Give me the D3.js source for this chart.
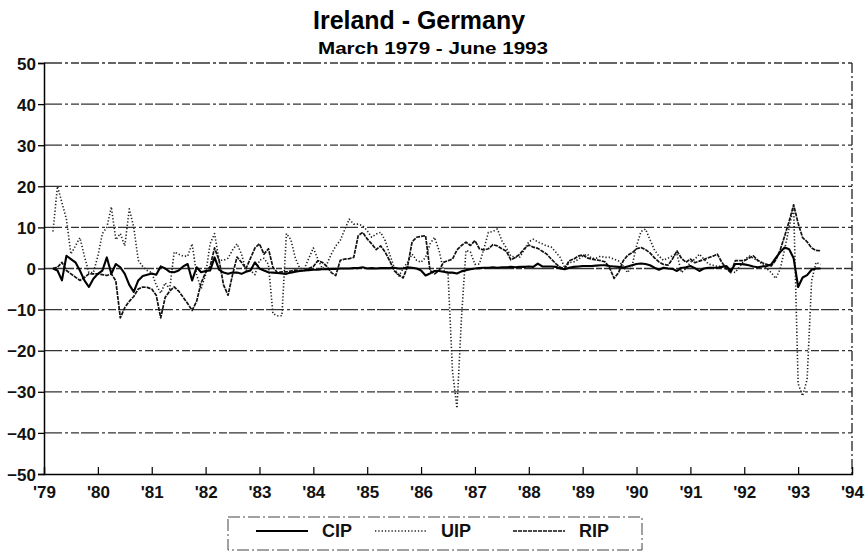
<!DOCTYPE html>
<html>
<head>
<meta charset="utf-8">
<script src="https://cdn.jsdelivr.net/npm/d3@7"></script>
<style>
    body { margin: 0; background: #fff; }
    svg { display: block; }
    .tick-label { font-family: "Liberation Sans Narrow", "Arial Narrow", "Liberation Sans", sans-serif; font-weight: bold; font-size: 17px; fill: #111; }
</style>
</head>
<body>
<div id="chart"></div>
<script>
// monthly series, March 1979 .. June 1993
var startYear = 1979, startMonth = 3;

var cipValues = [
    0, -0.5, -2.9, 3.1, 2.3, 1.5, -0.5, -2.9, -4.5, -2.5,
    -1.3, -0.5, 2.7, -1.3, 1.1, 0.3, -1.3, -4, -5.7, -2.9, -1.8, -1.5,
    -1.2, -1.5, 0.5, 0, -0.8, -0.9, -0.5, 0.5, 1.1, -2.9, 0.3, -0.9,
    -0.6, -0.5, 2.7, -0.3, -1, -1.3, -1, -1, -1.3, -0.8, -0.5, 1.5,
    0, -0.5, -0.9, -1, -1.1, -1.2, -1.3, -1, -0.8, -0.6, -0.5, -0.4,
    -0.3, -0.3, -0.2, -0.2, -0.1, -0.1, 0, 0, 0, 0.1, 0.1, 0.3,
    0, 0.1, 0, 0.1, 0.1, 0.1, 0.2, 0, 0, 0.3, 0.2, 0,
    -0.5, -1.7, -1.2, -0.6, -0.6, -0.8, -1, -1, -1.2, -0.7, -0.4, -0.2,
    0, 0.1, 0.2, 0.2, 0.3, 0.2, 0.3, 0.3, 0.4, 0.3, 0.4, 0.4,
    0.5, 0.4, 1.2, 0.5, 0.5, 0.5, 0.4, 0, -0.2, 0.2, 0.4, 0.5,
    0.6, 0.6, 0.6, 0.7, 0.8, 0.8, 0.6, 0.5, 0.4, 0.2, 0.5, 0.8,
    1.1, 1.2, 1.1, 0.8, 0.2, -0.3, 0.2, 0, -0.1, -0.6, 0.1, 0.3,
    0.6, 0.1, -0.6, 0, 0.2, 0.2, 0.2, 0.4, 0.6, -0.6, 1.1, 1.1,
    1, 0.8, 0.5, 0.3, 0.5, 0.6, 1, 2.5, 4, 5.1, 4.7, 2.5,
    -4.5, -2.2, -1.6, -0.3, 0, 0
];

var uipValues = [
    9, 20, 16, 12, 3.5, 5.5, 7.5, 3, -1, -1,
    3, 8.5, 10, 15, 7, 8.5, 5.5, 14.5, 10, 2, 0.5, -0.5,
    -1, -4, -6, -3.5, -5, 4, 3.5, 3, 3, 6, -1.5, -5,
    -1.5, 6, 8.5, 2, 2, 2.5, 4.5, 6, 3.5, -0.5, -0.5, -1.5,
    2, 2.5, 1, -11, -11.5, -11.5, 8.5, 7, 2.5, 0, 0, 2.5,
    5, 2.3, 0, 1, 3.5, 5.5, 6.8, 9.5, 12, 10.8, 10.8, 10.4,
    9.2, 7.6, 8.4, 8.8, 6.8, 3.5, 0.3, -2, 0, 1.5, 3.5, 2,
    1.5, 2.7, 6, 7.6, 4.4, -0.5, -1, -25, -34, -12, 4.4, 4,
    1, 1.1, 4.8, 8.8, 9, 9.6, 6.8, 5, 3, 2.8, 2.8, 4.5,
    6.5, 7.1, 6.5, 6, 5.5, 5.2, 4, 2.7, 0.2, 1.4, 1.6, 2.2,
    3, 3.5, 2.5, 2.5, 3, 2.7, 2.7, 2.3, 1.8, 0.6, -1, 0.6,
    5.5, 9, 9.6, 7, 4.5, 3, 2, 2.5, 3.1, 3.5, -1, 0,
    1.5, 2.3, 3.5, 2.3, 1.1, 0.8, 0.5, 0.6, -0.2, -0.6, -1, 0.5,
    1.9, 3.1, 2.5, 1.9, 1.1, 0, -1, -2.4, -0.2, 4.7, 10, 15,
    -28, -31, -27, -3, 1.5, 1
];

var ripValues = [
    0, 0.3, 1.5, -0.5, -1.3, -2.1, -2.9, -2.2, -1.3, -1.3,
    -1.3, -1.5, -1.7, -1.3, -3, -12, -9.5, -8, -6.8, -5, -4.5, -4.6,
    -5, -6.5, -12, -7, -5.5, -4.5, -5.5, -7, -8.5, -10.2, -8, -3.5,
    -1, 0.5, 5, 2, -4, -6.5, -1.5, 2.8, 1.5, 0, 2.5, 5,
    6, 3.5, 4.8, 0.3, -1, -0.8, -0.8, -0.6, -0.4, -0.5, -0.5, 0,
    0.5, 1.9, 1.5, 0.5, -1, -1.7, 2, 2.3, 2.4, 2.7, 8, 8.8,
    7.2, 6, 4.6, 5.5, 4, 1.9, -0.5, -1.5, -2.3, 0.5, 6.5, 7.6,
    7.8, 8, -0.5, -1.3, -0.5, 1.5, 1.9, 2.3, 4.5, 5.6, 6.4, 5.6,
    6.8, 4.8, 4.5, 4.8, 5.8, 5.5, 4.8, 4.2, 2.1, 2.7, 3.5, 4.8,
    5.7, 5.2, 4.9, 4.2, 3.5, 2.3, 1.2, 0.3, 0, 1.9, 2.3, 3,
    3.3, 2.6, 2.3, 2.1, 1.9, 1.6, 0.2, -2.4, -1, 1.8, 3.2, 3.8,
    4.8, 5.1, 4.6, 3.8, 2.6, 1.6, 1, 0.8, 2.3, 4.3, 2.5, 1.5,
    2.3, 1.4, 1.8, 2.2, 2.6, 3, 3.5, 1.5, 0, -1, 1.9, 1.9,
    1.9, 2.5, 3.1, 2, 1.4, 1, 0.6, 2, 4.5, 7.9, 11.5, 15.5,
    11, 7.5, 6.5, 5, 4.4, 4.3
];

var yTicks = [50, 40, 30, 20, 10, 0, -10, -20, -30, -40, -50];
var xTicks = [1979, 1980, 1981, 1982, 1983, 1984, 1985, 1986, 1987, 1988, 1989, 1990, 1991, 1992, 1993, 1994];
var xTickLabels = ["'79", "'80", "'81", "'82", "'83", "'84", "'85", "'86", "'87", "'88", "'89", "'90", "'91", "'92", "'93", "'94"];
var seriesNames = ["CIP", "UIP", "RIP"];

var width = 865, height = 551;
var plot = { left: 44, right: 852, top: 63, bottom: 474 };

var svg = d3.select("#chart").append("svg")
    .attr("width", width)
    .attr("height", height);

var x = d3.scaleLinear().domain([1979, 1994]).range([plot.left, plot.right]);
var y = d3.scaleLinear().domain([-50, 50]).range([plot.bottom, plot.top]);

function toSeries(values) {
    return values.map(function(v, i) {
        return { t: startYear + (startMonth - 1 + i) / 12, v: v };
    });
}

// titles
svg.append("text")
    .attr("x", 419).attr("y", 29)
    .attr("text-anchor", "middle")
    .style("font-family", "'Liberation Sans Narrow', 'Liberation Sans', Arial, sans-serif")
    .style("font-size", "26px")
    .style("font-weight", "bold")
    .attr("textLength", 212).attr("lengthAdjust", "spacingAndGlyphs")
    .text("Ireland - Germany");

svg.append("text")
    .attr("x", 433).attr("y", 54)
    .attr("text-anchor", "middle")
    .style("font-family", "'Liberation Sans Narrow', 'Liberation Sans', Arial, sans-serif")
    .style("font-size", "17px")
    .style("font-weight", "bold")
    .attr("textLength", 230).attr("lengthAdjust", "spacingAndGlyphs")
    .text("March 1979 - June 1993");

// grid lines
svg.append("g").selectAll("line")
    .data(yTicks.filter(function(d) { return d !== -50; }))
    .enter().append("line")
    .attr("x1", plot.left).attr("x2", plot.right)
    .attr("y1", function(d) { return y(d); })
    .attr("y2", function(d) { return y(d); })
    .attr("stroke", "#333")
    .attr("stroke-width", 1.3)
    .attr("stroke-dasharray", function(d) { return d === 0 ? "30,2,6,2" : "18,3,3,3,8,2"; });

// right border
svg.append("line")
    .attr("x1", plot.right).attr("x2", plot.right)
    .attr("y1", plot.top).attr("y2", plot.bottom)
    .attr("stroke", "#222").attr("stroke-width", 1.3)
    .attr("stroke-dasharray", "10,3,2,3");

// axes
var yAxis = d3.axisLeft(y).tickValues(yTicks).tickSize(6).tickFormat(d3.format("d"));
var yAxisGroup = svg.append("g")
    .attr("transform", "translate(" + plot.left + ",0)")
    .call(yAxis);
yAxisGroup.select(".domain").attr("stroke", "#000").attr("stroke-width", 1.5);
yAxisGroup.selectAll(".tick line").attr("stroke", "#000").attr("stroke-width", 1.3);
yAxisGroup.selectAll(".tick text").attr("class", "tick-label").attr("x", -8).attr("dy", "0.36em");

var xAxis = d3.axisBottom(x).tickValues(xTicks).tickSize(-7)
    .tickFormat(function(d, i) { return xTickLabels[i]; });
var xAxisGroup = svg.append("g")
    .attr("transform", "translate(0," + plot.bottom + ")")
    .call(xAxis);
xAxisGroup.select(".domain").attr("stroke", "#000").attr("stroke-width", 1.3);
xAxisGroup.selectAll(".tick line").attr("stroke", "#000").attr("stroke-width", 1.2);
xAxisGroup.selectAll(".tick text").attr("class", "tick-label").attr("y", 12).attr("dy", "0.71em");

// series
var line = d3.line()
    .x(function(d) { return x(d.t); })
    .y(function(d) { return y(d.v); });

var styles = {
    CIP: { width: 2.1, dash: null, colour: "#000" },
    UIP: { width: 1.6, dash: "1.3,2", colour: "#222" },
    RIP: { width: 1.7, dash: "4,1", colour: "#111" }
};
var seriesData = { CIP: toSeries(cipValues), UIP: toSeries(uipValues), RIP: toSeries(ripValues) };

["UIP", "RIP", "CIP"].forEach(function(name) {
    svg.append("path")
        .datum(seriesData[name])
        .attr("fill", "none")
        .attr("stroke", styles[name].colour)
        .attr("stroke-width", styles[name].width)
        .attr("stroke-dasharray", styles[name].dash)
        .attr("stroke-linejoin", "round")
        .attr("d", line);
});

// legend
var legend = svg.append("g");
legend.append("rect")
    .attr("x", 228).attr("y", 517)
    .attr("width", 414).attr("height", 33)
    .attr("fill", "none")
    .attr("stroke", "#444").attr("stroke-width", 1)
    .attr("stroke-dasharray", "12,3,2,3");

var legendX = [256, 375, 513];
seriesNames.forEach(function(name, i) {
    legend.append("line")
        .attr("x1", legendX[i]).attr("x2", legendX[i] + 52)
        .attr("y1", 531).attr("y2", 531)
        .attr("stroke", styles[name].colour)
        .attr("stroke-width", styles[name].width)
        .attr("stroke-dasharray", styles[name].dash);
    legend.append("text")
        .attr("class", "tick-label")
        .attr("x", legendX[i] + 66).attr("y", 537)
        .style("font-size", "18px")
        .text(name);
});
</script>
</body>
</html>
